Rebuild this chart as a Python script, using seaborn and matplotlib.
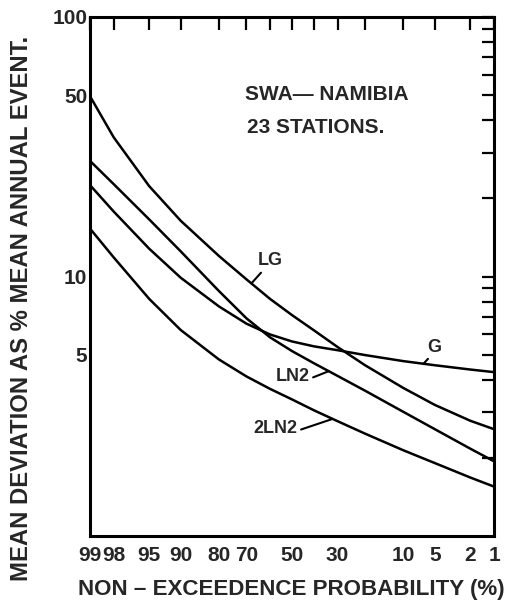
import numpy as np
import pandas as pd
import matplotlib
matplotlib.use("Agg")
import matplotlib.pyplot as plt
import seaborn as sns
from statistics import NormalDist

# non-exceedence probability (%) where the curves were read off
prob = [99, 98, 95, 90, 80, 70, 60, 50, 40, 30, 20, 10, 5, 2, 1]

# mean deviation as % of mean annual event
lg = [49.5, 34.4, 22.3, 16.4, 12.0, 9.75, 8.2, 7.1, 6.2, 5.35, 4.55, 3.72, 3.2, 2.78, 2.58]
g = [22.5, 17.8, 12.8, 9.89, 7.67, 6.58, 5.98, 5.62, 5.38, 5.2, 4.98, 4.72, 4.55, 4.38, 4.28]
ln2 = [27.9, 22.7, 16.6, 12.5, 8.79, 6.90, 5.83, 5.16, 4.63, 4.14, 3.63, 3.01, 2.58, 2.17, 1.94]
two_ln2 = [15.3, 11.85, 8.20, 6.22, 4.79, 4.12, 3.69, 3.36, 3.05, 2.77, 2.48, 2.14, 1.91, 1.68, 1.55]

x_ticks = [99, 98, 95, 90, 80, 70, 60, 50, 40, 30, 20, 10, 5, 2, 1]
x_labels = ["99", "98", "95", "90", "80", "70", "", "50", "", "30", "", "10", "5", "2", "1"]
y_ticks = [2, 3, 4, 5, 6, 7, 8, 9, 10, 20, 30, 40, 50, 60, 70, 80, 90, 100]
y_labels = ["", "", "", "5", "", "", "", "", "10", "", "", "", "50", "", "", "", "", "100"]

curves = {"LG": lg, "G": g, "LN2": ln2, "2LN2": two_ln2}

rows = []
for name, vals in curves.items():
    for p, v in zip(prob, vals):
        rows.append({"prob": p, "dev": v, "curve": name})
df = pd.DataFrame(rows)

sns.set_style("white")
plt.rcParams["font.family"] = ["Liberation Sans", "DejaVu Sans"]
plt.rcParams["font.weight"] = "bold"

nd = NormalDist()
_f = np.vectorize(lambda v: nd.inv_cdf(v / 100.0), otypes=[float])
_i = np.vectorize(lambda z: nd.cdf(z) * 100.0, otypes=[float])


def prob_fwd(p):
    p = np.clip(np.asarray(p, dtype=float), 0.001, 99.999)
    return _f(p)


def prob_inv(z):
    return _i(np.asarray(z, dtype=float))


def on_curve(vals, p):
    # point on a curve, interpolated in the probability-paper coordinates
    z = prob_fwd(prob)[::-1]
    lv = np.log10(vals)[::-1]
    return p, 10 ** np.interp(prob_fwd(p), z, lv)


fig = plt.figure(figsize=(5.09, 6.10), dpi=100)
ax = fig.add_axes([90 / 509, 1 - 536 / 610, 404 / 509, 519 / 610])

sns.lineplot(data=df, x="prob", y="dev", hue="curve", units="curve", estimator=None,
             palette={k: "black" for k in curves}, legend=False, lw=1.8, ax=ax)

ax.set_xscale("function", functions=(prob_fwd, prob_inv))
ax.set_yscale("log")
ax.set_xlim(99, 1)
ax.set_ylim(1, 100)

ax.set_xticks(x_ticks)
ax.set_xticklabels(x_labels)
ax.set_yticks(y_ticks)
ax.set_yticklabels(y_labels)
ax.minorticks_off()
ax.tick_params(which="both", direction="in", top=True, right=True,
               length=9, width=1.6, color="black")
ax.tick_params(axis="x", pad=7, labelsize=15)
ax.tick_params(axis="y", pad=2, labelsize=15)
ax.set_xlabel("")
ax.set_ylabel("")
for s in ax.spines.values():
    s.set_linewidth(2.2)
    s.set_color("black")

ax.text(0.384, 0.850, "SWA\u2014 NAMIBIA", transform=ax.transAxes,
        fontsize=15, va="center", ha="left")
ax.text(0.389, 0.788, "23 STATIONS.", transform=ax.transAxes,
        fontsize=15, va="center", ha="left")

labels = [("LG", lg, 68, (0.446, 0.530), (0.25, 0.0)),
          ("G", g, 6.5, (0.851, 0.364), (0.3, 0.0)),
          ("LN2", ln2, 33.6, (0.502, 0.308), (1.0, 0.35)),
          ("2LN2", two_ln2, 32, (0.460, 0.208), (1.0, 0.35))]
for txt, vals, p, xyt, rp in labels:
    ax.annotate(txt, xy=on_curve(vals, p), xytext=xyt, textcoords="axes fraction",
                ha="center", va="center", fontsize=13,
                arrowprops=dict(arrowstyle="-", lw=1.5, color="black",
                                shrinkA=0, shrinkB=0, relpos=rp))

xlab = fig.text(291.5 / 509, 1 - 590 / 610, "NON \u2013 EXCEEDENCE PROBABILITY (%)",
                ha="center", va="center", fontsize=15)
ylab = fig.text(22 / 509, 0.495, "MEAN DEVIATION AS % MEAN ANNUAL EVENT.",
                ha="center", va="center", rotation=90, fontsize=15)

# size the axis titles to the lengths they have on the original
fig.canvas.draw()
r = fig.canvas.get_renderer()
for t, target, horiz in [(xlab, 427, True), (ylab, 545, False)]:
    bb = t.get_window_extent(r)
    cur = bb.width if horiz else bb.height
    t.set_fontsize(t.get_fontsize() * target / cur)

fig.savefig("out.png", dpi=100, facecolor="white")
